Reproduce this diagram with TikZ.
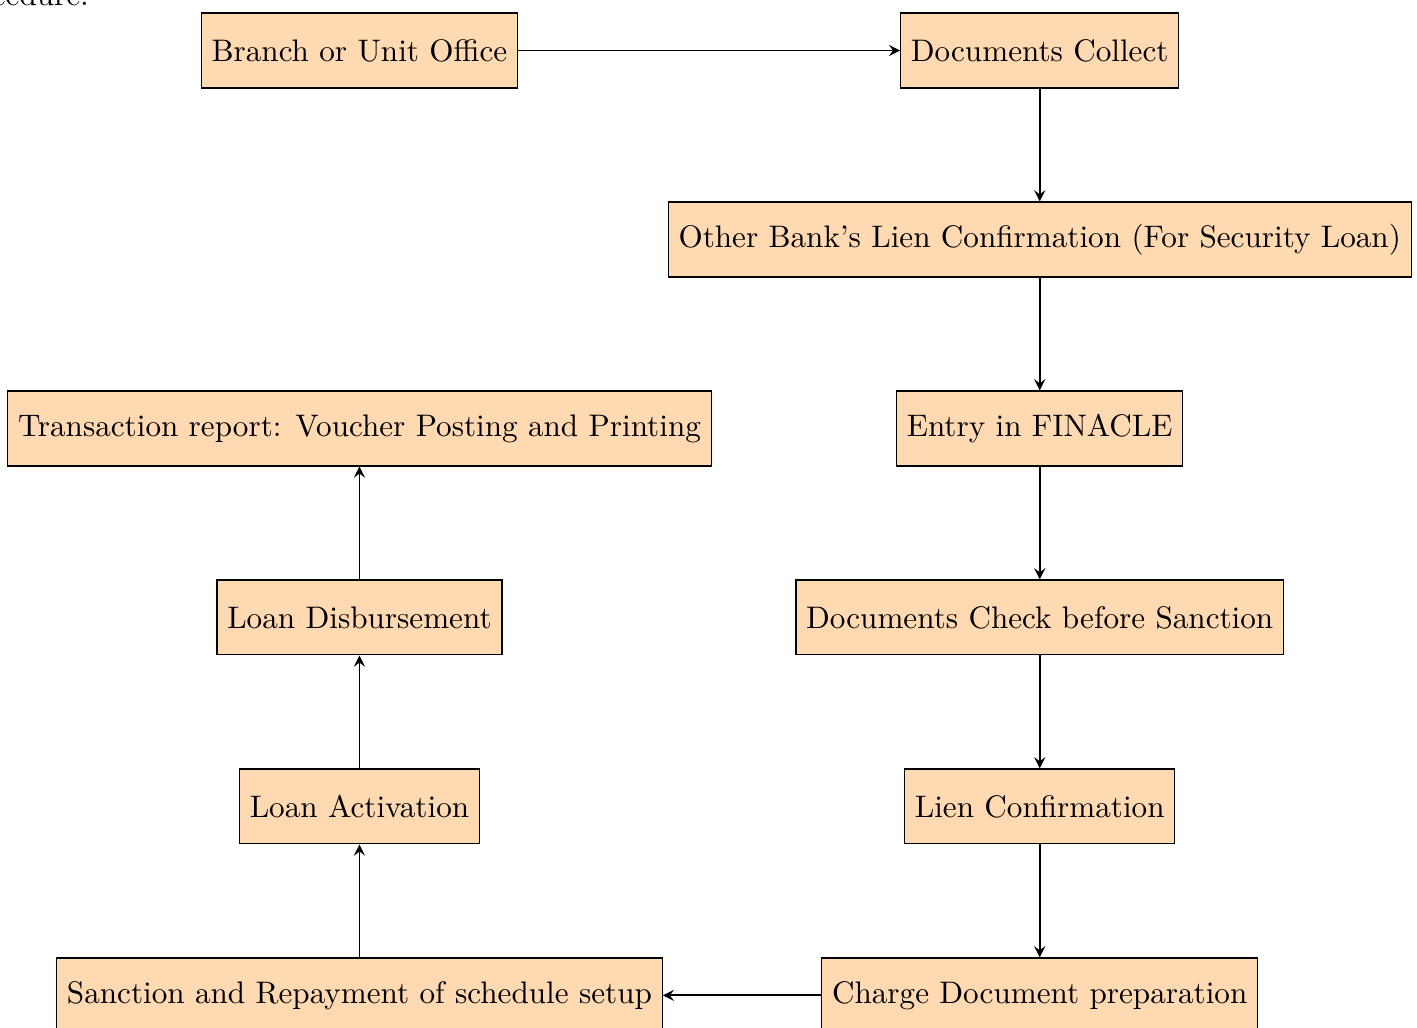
\documentclass[tikz,border=0pt]{standalone}

\begin{document}
\begin{tikzpicture}[
    every node/.style = {font = \fontsize{10.15pt}{12pt}\selectfont},
    box/.style = {draw, thin, fill = orange!30, minimum height = 24.4pt},
    >=stealth, semithick]
    \useasboundingbox (-117.1pt, 16.45pt) rectangle (344.5pt, -318.4pt);
    \node[anchor = base east] (procedure) at (-84.5pt, 14.8pt) {Procedure.};
    \node[box] (branch office) at (0pt, 0pt) {Branch or Unit Office};
    \node[box] (documents collect) at (221.6pt, 0pt) {Documents Collect};
    \draw[->] (branch office) -- (documents collect);
    \node[box] (other bank lien) at (221.6pt, -61.56pt) {Other Bank's Lien Confirmation (For Security Loan)};
    \draw[->] (documents collect) -- (other bank lien);
    \node[box] (finacle entry) at (221.6pt, -123.12pt) {Entry in FINACLE};
    \draw[->] (other bank lien) -- (finacle entry);
    \node[box] (documents check) at (221.6pt, -184.68pt) {Documents Check before Sanction};
    \draw[->] (finacle entry) -- (documents check);
    \node[box] (lien confirmation) at (221.6pt, -246.24pt) {Lien Confirmation};
    \draw[->] (documents check) -- (lien confirmation);
    \node[box] (charge document) at (221.6pt, -307.8pt) {Charge Document preparation};
    \draw[->] (lien confirmation) -- (charge document);
    \node[box] (sanction repayment) at (0pt, -307.8pt) {Sanction and Repayment of schedule setup};
    \draw[->] (charge document) -- (sanction repayment);
    \node[box] (loan activation) at (0pt, -246.24pt) {Loan Activation};
    \draw[->] (sanction repayment) -- (loan activation);
    \node[box] (loan disbursement) at (0pt, -184.68pt) {Loan Disbursement};
    \draw[->] (loan activation) -- (loan disbursement);
    \node[box] (transaction report) at (0pt, -123.12pt) {Transaction report: Voucher Posting and Printing};
    \draw[->] (loan disbursement) -- (transaction report);
  \end{tikzpicture}
\end{document}
